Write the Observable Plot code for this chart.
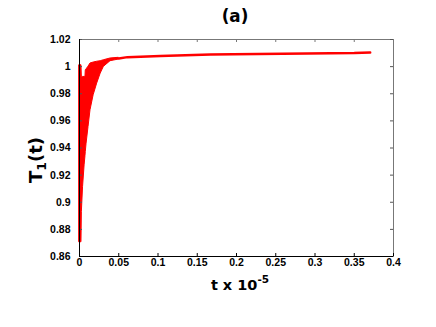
<!DOCTYPE html>
<html><head><meta charset="utf-8">
<script src="https://cdn.jsdelivr.net/npm/d3@7"></script>
<script src="https://cdn.jsdelivr.net/npm/@observablehq/plot@0.6"></script>
<style>body{margin:0;background:#fff}</style>
</head><body><div id="chart"></div>
<script>
// Oscillating band (envelope of the fast oscillation)
const bandT  = [0, 0.0025, 0.003, 0.0045, 0.0065, 0.0076, 0.008, 0.009, 0.0115, 0.014, 0.018, 0.0225, 0.027, 0.031, 0.0395, 0.05];
const bandLo = [0.8705, 0.8705, 0.8927, 0.9111, 0.9272, 0.934, 0.937, 0.9432, 0.9555, 0.9678, 0.9789, 0.9875, 0.9949, 0.9998, 1.004, 1.0052];
const bandHi = [1.001, 1.001, 0.9924, 0.9924, 0.9924, 0.9924, 0.9973, 0.998, 1.000, 1.0023, 1.003, 1.0036, 1.004, 1.0047, 1.006, 1.0065];
// Converged tail
const tailT = [0.05, 0.061, 0.103, 0.167, 0.196, 0.29, 0.35, 0.3703];
const tailY = [1.0060, 1.0070, 1.0079, 1.0090, 1.0091, 1.0097, 1.0100, 1.0104];
const xTicks = [0, 0.05, 0.1, 0.15, 0.2, 0.25, 0.3, 0.35, 0.4];
const yTicks = [0.86, 0.88, 0.9, 0.92, 0.94, 0.96, 0.98, 1, 1.02];
const title = "(a)";
const xLabel = ["t x 10", "-5"];
const yLabel = ["T", "1", "(t)"];

const band = bandT.map((t, i) => ({t, lo: bandLo[i], hi: bandHi[i]}));
const tail = tailT.map((t, i) => ({t, y: tailY[i]}));

const W = 436, H = 327, mt = 39, mb = 71, ml = 79, mr = 43;
const fw = W - ml - mr, fh = H - mt - mb;
const fmt = d => String(+d.toFixed(2));
const red = "#ff0000";

const chart = Plot.plot({
  width: W, height: H,
  marginTop: mt, marginBottom: mb, marginLeft: ml, marginRight: mr,
  style: {fontFamily: "Liberation Sans", fontSize: "10.5px", fontWeight: "bold", background: "#fff", color: "#000", overflow: "visible"},
  x: {domain: [0, 0.4]},
  y: {domain: [0.86, 1.02]},
  marks: [
    Plot.areaY(band, {x: "t", y1: "lo", y2: "hi", fill: red, stroke: red, strokeWidth: 1}),
    Plot.line(tail, {x: "t", y: "y", stroke: red, strokeWidth: 2.5}),
    Plot.frame({stroke: "#777"}),
    Plot.ruleX(xTicks, {insetTop: fh - 3, stroke: "#000"}),
    Plot.ruleX(xTicks, {insetBottom: fh - 3, stroke: "#777"}),
    Plot.ruleY(yTicks, {insetRight: fw - 3, stroke: "#555"}),
    Plot.ruleY(yTicks, {insetLeft: fw - 3, stroke: "#555"}),
    Plot.ruleY([0.86], {stroke: "#000"}),
    Plot.ruleX([0], {stroke: "#000"}),
    Plot.axisX(xTicks, {tickSize: 0, tickPadding: 2, tickFormat: fmt, fontWeight: "bold", label: null}),
    Plot.axisY(yTicks, {tickSize: 0, tickPadding: 9, tickFormat: fmt, fontWeight: "bold", label: null})
  ]
});
document.getElementById("chart").append(chart);

const svg = d3.select(chart);
svg.append("text")
  .attr("x", 235).attr("y", 22)
  .attr("text-anchor", "middle")
  .style("font-family", "DejaVu Sans").style("font-weight", "bold").style("font-size", "16.8px")
  .text(title);

const xl = svg.append("text")
  .attr("x", 240).attr("y", 290)
  .attr("text-anchor", "middle")
  .style("font-family", "DejaVu Sans").style("font-weight", "bold").style("font-size", "14.5px");
xl.append("tspan").text(xLabel[0]);
xl.append("tspan").attr("dy", -7).style("font-size", "10.5px").text(xLabel[1]);

const yl = svg.append("text")
  .attr("transform", "translate(42,160) rotate(-90)")
  .attr("text-anchor", "middle")
  .style("font-family", "DejaVu Sans").style("font-weight", "bold").style("font-size", "18px");
yl.append("tspan").text(yLabel[0]);
yl.append("tspan").attr("dy", 4).style("font-size", "12.5px").text(yLabel[1]);
yl.append("tspan").attr("dy", -4).text(yLabel[2]);
</script>
</body></html>
